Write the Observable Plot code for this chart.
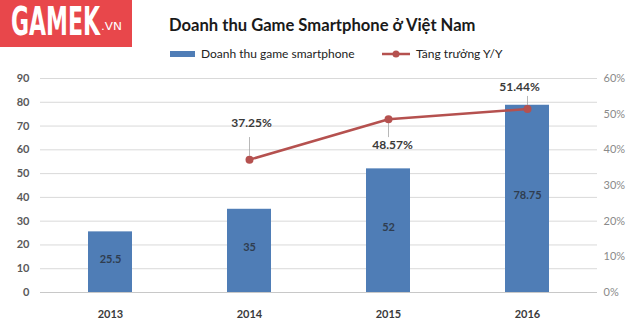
<!DOCTYPE html>
<html>
<head>
<meta charset="utf-8">
<script src="https://cdn.jsdelivr.net/npm/d3@7"></script>
<script src="https://cdn.jsdelivr.net/npm/@observablehq/plot@0.6"></script>
<style>
  html, body { margin: 0; padding: 0; background: #fff; }
  #wrap { position: relative; width: 640px; height: 330px; overflow: hidden; font-family: Lato, "Open Sans", sans-serif; }
  #logo { position: absolute; left: 0; top: 0; width: 132px; height: 47px; background: #e8474b; }
  #logo .g { position: absolute; left: 11px; top: 2px; color: #fff; font-family: "DejaVu Sans", sans-serif; font-stretch: condensed; font-weight: bold; font-size: 34px; line-height: 34px; transform-origin: left top; white-space: nowrap; }
  #logo .vn { position: absolute; left: 101px; top: 20px; color: #fff; font-family: "DejaVu Sans", sans-serif; font-stretch: condensed; font-size: 11px; line-height: 14px; transform-origin: left top; white-space: nowrap; }
  #title { position: absolute; left: 169px; top: 15px; font-size: 16.6px; font-weight: bold; color: #1a1a1a; white-space: nowrap; }
  .leg { position: absolute; top: 46px; font-size: 12px; color: #222; white-space: nowrap; }
  #chart { position: absolute; left: 0; top: 62px; }
</style>
</head>
<body>
<div id="wrap">
  <div id="logo"><span class="g">GAMEK</span><span class="vn">.VN</span></div>
  <div id="title">Doanh thu Game Smartphone ở Việt Nam</div>
  <div class="leg" style="left:170px;"><span style="display:inline-block;width:25px;height:6px;background:#4f7db6;vertical-align:middle;margin-right:6px;position:relative;top:-1px;"></span>Doanh thu game smartphone</div>
  <div class="leg" style="left:382px;"><svg width="28" height="10" style="vertical-align:middle;margin-right:6px;position:relative;top:-1px;"><line x1="0" y1="5" x2="28" y2="5" stroke="#b5514f" stroke-width="2.5"/><circle cx="14" cy="5" r="3.5" fill="#b5514f"/></svg>Tăng trưởng Y/Y</div>
  <div id="chart"></div>
</div>
<script>
const years = ["2013", "2014", "2015", "2016"];
const revenue = [25.5, 35, 52, 78.75];
const growthYears = ["2014", "2015", "2016"];
const growth = [37.25, 48.57, 51.44];
const leftTicks = [0, 10, 20, 30, 40, 50, 60, 70, 80, 90];
const rightTicks = [0, 10, 20, 30, 40, 50, 60];

const k = 90 / 60; // right axis (%) mapped onto left scale
const revData = years.map((year, i) => ({year, value: revenue[i]}));
const growthData = growthYears.map((year, i) => ({year, pct: growth[i]}));

const barColor = "#4f7db6";
const lineColor = "#b5514f";

function pctLabel(year, dx, dy) {
  return Plot.text(growthData.filter(d => d.year === year), {
    x: "year", y: d => d.pct * k, text: d => d.pct.toFixed(2) + "%",
    dx, dy, fontSize: 12, fontWeight: "bold", fill: "#3a3a3a"
  });
}

const chart = Plot.plot({
  width: 640, height: 268,
  marginLeft: 40, marginRight: 43, marginTop: 16, marginBottom: 38,
  style: {fontFamily: "Lato, 'Open Sans', sans-serif", background: "transparent"},
  x: {domain: years, paddingInner: 0.68, paddingOuter: 0.34, label: null},
  y: {domain: [0, 90], label: null},
  marks: [
    Plot.gridY(leftTicks, {stroke: "#d9d9d9", strokeOpacity: 1}),
    Plot.ruleY([0], {stroke: "#c8c8c8"}),
    Plot.barY(revData, {x: "year", y: "value", fill: barColor}),
    Plot.text(revData, {x: "year", y: d => d.value / 2, text: d => String(d.value), dy: -3, fontSize: 11, fontWeight: "bold", fill: "#2f3d50"}),
    Plot.link(growthData, {
      x1: "year", x2: "year",
      y1: d => d.pct * k + (d.year === "2015" ? -1.6 : 1.6),
      y2: d => d.pct * k + (d.year === "2015" ? -7.5 : (d.year === "2014" ? 9.5 : 5.5)),
      stroke: "#a6a6a6", strokeWidth: 0.8
    }),
    Plot.line(growthData, {x: "year", y: d => d.pct * k, stroke: lineColor, strokeWidth: 2.5}),
    Plot.dot(growthData, {x: "year", y: d => d.pct * k, r: 4, fill: lineColor}),
    pctLabel("2014", 2, -36),
    pctLabel("2015", 4, 26),
    pctLabel("2016", -8, -22),
    Plot.axisY({anchor: "left", ticks: leftTicks, tickSize: 0, tickPadding: 11, fontSize: 11, fontWeight: "bold", fill: "#595959", label: null}),
    Plot.axisY({anchor: "right", ticks: rightTicks.map(p => p * k), tickFormat: v => Math.round(v / k) + "%", tickSize: 0, tickPadding: 6, fontSize: 11, fill: "#8a8a8a", label: null}),
    Plot.axisX({tickSize: 0, tickPadding: 18, fontSize: 11, fontWeight: "bold", fill: "#3a3a3a", label: null})
  ]
});
document.getElementById("chart").appendChild(chart);

// fit logo text into its box
const g = document.querySelector("#logo .g");
const gw = g.getBoundingClientRect().width;
g.style.transform = `scale(${89 / gw}, 1.15)`;
const vn = document.querySelector("#logo .vn");
const vw = vn.getBoundingClientRect().width;
vn.style.transform = `scale(${21 / vw}, 1)`;
</script>
</body>
</html>
